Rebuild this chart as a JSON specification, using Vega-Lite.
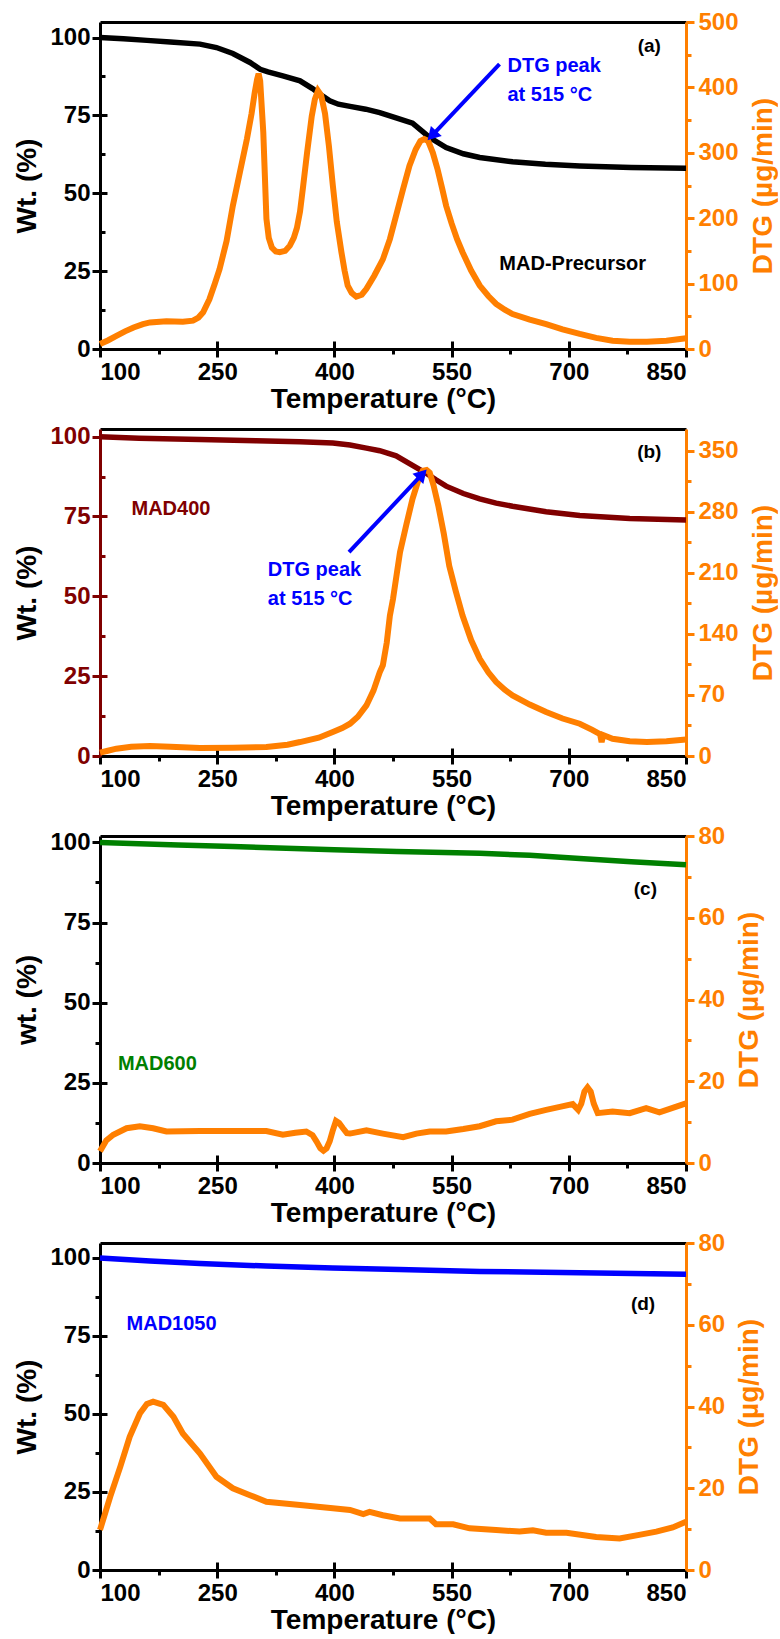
{
  "$schema": "https://vega.github.io/schema/vega-lite/v6.json",
  "padding": {"left": 13, "top": 10, "right": 0, "bottom": 0},
  "background": "white",
  "bounds": "flush",
  "spacing": 80,
  "config": {
    "font": "Liberation Sans",
    "view": {"stroke": null},
    "axis": {
      "labelFont": "Liberation Sans", "labelFontWeight": "bold", "labelFontSize": 24,
      "titleFont": "Liberation Sans", "titleFontWeight": "bold", "titleFontSize": 28,
      "domainWidth": 3, "tickWidth": 3, "tickSize": 8, "grid": false,
      "labelColor": "black", "titleColor": "black", "domainColor": "black", "tickColor": "black"
    },
    "axisBottom": {"labelPadding": 3, "titlePadding": 1},
    "text": {"font": "Liberation Sans", "fontWeight": "bold"}
  },
  "datasets": {
    "a_wt": [
      {"T":100,"W":100},{"T":130,"W":99.6},{"T":160,"W":99.1},{"T":190,"W":98.6},{"T":228,"W":97.9},{"T":249,"W":96.8},{"T":270,"W":94.9},{"T":292,"W":92.0},{"T":305,"W":89.8},{"T":315,"W":89.0},{"T":334,"W":87.7},{"T":356,"W":86.1},{"T":372,"W":83.6},{"T":385,"W":81.2},{"T":394,"W":79.7},{"T":405,"W":78.6},{"T":420,"W":77.9},{"T":440,"W":77.0},{"T":458,"W":75.9},{"T":479,"W":74.2},{"T":500,"W":72.5},{"T":513,"W":69.8},{"T":522,"W":67.9},{"T":543,"W":64.7},{"T":565,"W":62.7},{"T":586,"W":61.5},{"T":628,"W":60.1},{"T":670,"W":59.3},{"T":714,"W":58.8},{"T":780,"W":58.3},{"T":850,"W":58.0}
    ],
    "a_dtg": [
      {"T":100,"D":7.6},{"T":110,"D":13},{"T":121,"D":20},{"T":132,"D":27},{"T":143,"D":33},{"T":155,"D":38},{"T":164,"D":40.7},{"T":185,"D":42.3},{"T":206,"D":41.7},{"T":219,"D":43.3},{"T":226,"D":48},{"T":232,"D":56},{"T":240,"D":76},{"T":247,"D":100},{"T":253,"D":122},{"T":262,"D":165},{"T":270,"D":219},{"T":279,"D":270},{"T":288,"D":321},{"T":294,"D":360},{"T":298,"D":392},{"T":301,"D":412},{"T":303,"D":421},{"T":305,"D":410},{"T":307,"D":370},{"T":309,"D":331},{"T":311,"D":265},{"T":313,"D":199},{"T":316,"D":170},{"T":320,"D":155},{"T":325,"D":149},{"T":330,"D":148},{"T":337,"D":150},{"T":343,"D":158},{"T":348,"D":170},{"T":352,"D":185},{"T":356,"D":210},{"T":360,"D":249},{"T":365,"D":300},{"T":371,"D":356},{"T":375,"D":382},{"T":379,"D":395},{"T":383,"D":388},{"T":388,"D":360},{"T":393,"D":310},{"T":398,"D":250},{"T":403,"D":195},{"T":409,"D":148},{"T":413,"D":120},{"T":417,"D":97},{"T":422,"D":86},{"T":428,"D":80},{"T":435,"D":83},{"T":441,"D":92},{"T":451,"D":112},{"T":462,"D":137},{"T":471,"D":168},{"T":479,"D":204},{"T":488,"D":245},{"T":496,"D":280},{"T":504,"D":305},{"T":510,"D":318},{"T":515,"D":321},{"T":520,"D":318},{"T":526,"D":300},{"T":532,"D":275},{"T":538,"D":245},{"T":543,"D":219},{"T":550,"D":192},{"T":557,"D":168},{"T":564,"D":148},{"T":575,"D":120},{"T":586,"D":97},{"T":597,"D":81},{"T":607,"D":69},{"T":618,"D":60},{"T":628,"D":53.5},{"T":650,"D":45},{"T":671,"D":38},{"T":692,"D":30},{"T":714,"D":23},{"T":735,"D":17},{"T":756,"D":12.7},{"T":778,"D":11},{"T":800,"D":11.2},{"T":825,"D":12.5},{"T":850,"D":16.3}
    ],
    "b_wt": [
      {"T":100,"W":100},{"T":150,"W":99.5},{"T":228,"W":99.1},{"T":300,"W":98.7},{"T":356,"W":98.4},{"T":398,"W":98.0},{"T":420,"W":97.4},{"T":441,"W":96.4},{"T":458,"W":95.6},{"T":479,"W":94.0},{"T":500,"W":91.0},{"T":517,"W":88.6},{"T":530,"W":86.5},{"T":543,"W":84.5},{"T":565,"W":82.2},{"T":586,"W":80.5},{"T":607,"W":79.2},{"T":628,"W":78.2},{"T":671,"W":76.5},{"T":714,"W":75.3},{"T":778,"W":74.4},{"T":850,"W":73.9}
    ],
    "b_dtg": [
      {"T":100,"D":3.8},{"T":110,"D":6},{"T":121,"D":8.4},{"T":140,"D":10.5},{"T":164,"D":11.5},{"T":190,"D":10.5},{"T":228,"D":9.2},{"T":270,"D":9.5},{"T":313,"D":10.3},{"T":340,"D":13},{"T":356,"D":16},{"T":380,"D":21},{"T":398,"D":27.5},{"T":410,"D":32},{"T":420,"D":37},{"T":430,"D":45},{"T":441,"D":58},{"T":450,"D":75},{"T":458,"D":96},{"T":462,"D":104},{"T":467,"D":130},{"T":471,"D":161},{"T":475,"D":180},{"T":480,"D":210},{"T":484,"D":234},{"T":492,"D":265},{"T":500,"D":295},{"T":507,"D":315},{"T":513,"D":327},{"T":518,"D":328},{"T":522,"D":325},{"T":527,"D":310},{"T":533,"D":287},{"T":540,"D":255},{"T":547,"D":218},{"T":555,"D":190},{"T":564,"D":161},{"T":575,"D":133},{"T":586,"D":111.5},{"T":597,"D":96},{"T":607,"D":85},{"T":618,"D":76},{"T":628,"D":69.4},{"T":650,"D":59},{"T":671,"D":50.4},{"T":692,"D":43},{"T":714,"D":37},{"T":730,"D":30},{"T":740,"D":25},{"T":742,"D":16},{"T":744,"D":24},{"T":756,"D":19.8},{"T":778,"D":17},{"T":800,"D":16},{"T":825,"D":17},{"T":850,"D":19}
    ],
    "c_wt": [
      {"T":100,"W":100},{"T":200,"W":99.2},{"T":270,"W":98.7},{"T":400,"W":97.7},{"T":480,"W":97.2},{"T":586,"W":96.6},{"T":650,"W":96.0},{"T":714,"W":95.0},{"T":780,"W":94.0},{"T":850,"W":93.0}
    ],
    "c_dtg": [
      {"T":100,"D":2.85},{"T":108,"D":5.5},{"T":117,"D":6.9},{"T":134,"D":8.5},{"T":151,"D":9.0},{"T":168,"D":8.5},{"T":185,"D":7.7},{"T":228,"D":7.8},{"T":270,"D":7.8},{"T":313,"D":7.8},{"T":334,"D":6.9},{"T":350,"D":7.4},{"T":364,"D":7.7},{"T":372,"D":6.8},{"T":377,"D":5.3},{"T":382,"D":3.6},{"T":386,"D":3.0},{"T":390,"D":3.6},{"T":394,"D":5.3},{"T":398,"D":8},{"T":402,"D":10.3},{"T":406,"D":9.8},{"T":411,"D":8.5},{"T":416,"D":7.3},{"T":420,"D":7.2},{"T":441,"D":8.0},{"T":462,"D":7.2},{"T":488,"D":6.3},{"T":505,"D":7.2},{"T":522,"D":7.7},{"T":543,"D":7.7},{"T":565,"D":8.3},{"T":586,"D":9.0},{"T":607,"D":10.2},{"T":628,"D":10.6},{"T":650,"D":12.0},{"T":671,"D":13.0},{"T":690,"D":13.8},{"T":705,"D":14.4},{"T":712,"D":13.0},{"T":716,"D":14.5},{"T":720,"D":17.5},{"T":724,"D":18.5},{"T":728,"D":17.5},{"T":732,"D":14.5},{"T":737,"D":12.2},{"T":756,"D":12.6},{"T":778,"D":12.2},{"T":799,"D":13.4},{"T":816,"D":12.4},{"T":850,"D":14.6}
    ],
    "d_wt": [
      {"T":100,"W":100},{"T":164,"W":99.0},{"T":228,"W":98.2},{"T":313,"W":97.4},{"T":398,"W":96.8},{"T":483,"W":96.3},{"T":586,"W":95.7},{"T":714,"W":95.3},{"T":850,"W":94.8}
    ],
    "d_dtg": [
      {"T":100,"D":9.8},{"T":113,"D":17.9},{"T":126,"D":25.3},{"T":138,"D":32.6},{"T":151,"D":38.3},{"T":160,"D":40.6},{"T":168,"D":41.2},{"T":181,"D":40.4},{"T":194,"D":37.5},{"T":206,"D":33.4},{"T":228,"D":28.5},{"T":249,"D":22.8},{"T":270,"D":20},{"T":292,"D":18.3},{"T":313,"D":16.7},{"T":356,"D":15.9},{"T":398,"D":15.1},{"T":420,"D":14.7},{"T":437,"D":13.7},{"T":445,"D":14.2},{"T":462,"D":13.4},{"T":484,"D":12.6},{"T":500,"D":12.6},{"T":522,"D":12.6},{"T":530,"D":11.2},{"T":552,"D":11.2},{"T":573,"D":10.2},{"T":607,"D":9.8},{"T":637,"D":9.4},{"T":654,"D":9.7},{"T":671,"D":9.1},{"T":697,"D":9.1},{"T":735,"D":8.1},{"T":765,"D":7.7},{"T":790,"D":8.6},{"T":812,"D":9.4},{"T":833,"D":10.4},{"T":850,"D":11.8}
    ]
  },
  "vconcat": [
    {
      "width": 586, "height": 327,
      "resolve": {"scale": {"y": "independent"}, "axis": {"x": "independent", "y": "independent"}},
      "layer": [
        {"data": {"name": "a_wt"}, "mark": {"type": "line", "color": "black", "strokeWidth": 5.5},
         "encoding": {
           "x": {"field": "T", "type": "quantitative", "scale": {"domain": [100, 850], "nice": false},
                 "axis": {"orient": "bottom", "values": [100,250,400,550,700,850], "title": "Temperature (°C)", "titleX": 283}},
           "y": {"field": "W", "type": "quantitative", "scale": {"domain": [0, 105], "nice": false},
                 "axis": {"orient": "left", "values": [0,25,50,75,100], "title": "Wt. (%)", "labelPadding": 2, "titlePadding": 8}}
         }},
        {"data": {"name": "a_dtg"}, "mark": {"type": "line", "color": "#ff7f00", "strokeWidth": 6},
         "encoding": {
           "x": {"field": "T", "type": "quantitative", "axis": {"orient": "top", "labels": false, "ticks": false, "title": null}},
           "y": {"field": "D", "type": "quantitative", "scale": {"domain": [0, 500], "nice": false},
                 "axis": {"orient": "right", "values": [0,100,200,300,400,500], "title": "DTG (µg/min)", "titleAngle": 270, "titleBaseline": "top", "labelPadding": 4, "titlePadding": 11,
                          "domainColor": "#ff7f00", "tickColor": "#ff7f00", "labelColor": "#ff7f00", "titleColor": "#ff7f00"}}
         }},
        {"data": {"values": [{"T": 100, "W": 0}]}, "mark": {"type": "point", "opacity": 0},
         "encoding": {
           "x": {"field": "T", "type": "quantitative", "axis": {"orient": "bottom", "values": [175,325,475,625,775], "labels": false, "domain": false, "tickSize": 5, "title": null}},
           "y": {"field": "W", "type": "quantitative", "scale": {"domain": [0, 105], "nice": false}, "axis": {"orient": "left", "values": [12.5,37.5,62.5,87.5], "labels": false, "domain": false, "tickSize": 5, "offset": -5, "title": null}}
         }},
        {"data": {"values": [{"T": 100, "W": 0}]}, "mark": {"type": "point", "opacity": 0},
         "encoding": {
           "x": {"field": "T", "type": "quantitative", "axis": {"orient": "bottom", "values": [250,400,550,700], "labels": false, "domain": false, "tickSize": 8, "offset": -8, "title": null}},
           "y": {"field": "W", "type": "quantitative", "scale": {"domain": [0, 105], "nice": false}, "axis": {"orient": "left", "values": [25,50,75,100], "labels": false, "domain": false, "tickSize": 7, "offset": -7, "title": null}}
         }},
        {"data": {"values": [{"T": 100, "D": 0}]}, "mark": {"type": "point", "opacity": 0},
         "encoding": {
           "x": {"field": "T", "type": "quantitative", "axis": null},
           "y": {"field": "D", "type": "quantitative", "scale": {"domain": [0, 500], "nice": false}, "axis": {"orient": "right", "values": [50,150,250,350,450], "labels": false, "domain": false, "tickSize": 5, "tickColor": "#ff7f00", "title": null}}
         }},
        {"data": {"values": [{"T": 611.3, "D": 435.4, "T2": 526.7, "D2": 328.6}]},
         "mark": {"type": "rule", "color": "#0000ff", "strokeWidth": 4},
         "encoding": {
           "x": {"field": "T", "type": "quantitative", "axis": null},
           "x2": {"field": "T2"},
           "y": {"field": "D", "type": "quantitative", "scale": {"domain": [0, 500], "nice": false}, "axis": null},
           "y2": {"field": "D2"}
         }},
        {"data": {"values": [{"T": 526.7, "D": 328.6}]},
         "mark": {"type": "point", "shape": "triangle", "filled": true, "color": "#0000ff", "opacity": 1, "size": 220, "angle": 223},
         "encoding": {
           "x": {"field": "T", "type": "quantitative", "axis": null},
           "y": {"field": "D", "type": "quantitative", "scale": {"domain": [0, 500], "nice": false}, "axis": null}
         }},
        {"data": {"values": [{"T": 621.5, "W": 90.9, "label": "DTG peak"}, {"T": 621.5, "W": 81.5, "label": "at 515 °C"}]},
         "mark": {"type": "text", "color": "#0000ff", "fontSize": 20, "align": "left", "baseline": "middle"},
         "encoding": {
           "x": {"field": "T", "type": "quantitative", "axis": null},
           "y": {"field": "W", "type": "quantitative", "scale": {"domain": [0, 105], "nice": false}, "axis": null},
           "text": {"field": "label"}
         }},
        {"data": {"values": [{"T": 803, "W": 97.2, "label": "(a)"}]},
         "mark": {"type": "text", "color": "black", "fontSize": 19, "align": "center", "baseline": "middle"},
         "encoding": {
           "x": {"field": "T", "type": "quantitative", "axis": null},
           "y": {"field": "W", "type": "quantitative", "scale": {"domain": [0, 105], "nice": false}, "axis": null},
           "text": {"field": "label"}
         }},
        {"data": {"values": [{"T": 705, "W": 27.3, "label": "MAD-Precursor"}]},
         "mark": {"type": "text", "color": "black", "fontSize": 20, "align": "center", "baseline": "middle"},
         "encoding": {
           "x": {"field": "T", "type": "quantitative", "axis": null},
           "y": {"field": "W", "type": "quantitative", "scale": {"domain": [0, 105], "nice": false}, "axis": null},
           "text": {"field": "label"}
         }}
      ]
    },
    {
      "width": 586, "height": 327,
      "resolve": {"scale": {"y": "independent"}, "axis": {"x": "independent", "y": "independent"}},
      "layer": [
        {"data": {"name": "b_wt"}, "mark": {"type": "line", "color": "#800000", "strokeWidth": 5.5},
         "encoding": {
           "x": {"field": "T", "type": "quantitative", "scale": {"domain": [100, 850], "nice": false},
                 "axis": {"orient": "bottom", "values": [100,250,400,550,700,850], "title": "Temperature (°C)", "titleX": 283}},
           "y": {"field": "W", "type": "quantitative", "scale": {"domain": [0, 102.4], "nice": false},
                 "axis": {"orient": "left", "values": [0,25,50,75,100], "title": "Wt. (%)", "labelPadding": 2, "titlePadding": 8,
                          "domainColor": "#800000", "tickColor": "#800000", "labelColor": "#800000"}}
         }},
        {"data": {"name": "b_dtg"}, "mark": {"type": "line", "color": "#ff7f00", "strokeWidth": 6},
         "encoding": {
           "x": {"field": "T", "type": "quantitative", "axis": {"orient": "top", "labels": false, "ticks": false, "title": null}},
           "y": {"field": "D", "type": "quantitative", "scale": {"domain": [0, 375], "nice": false},
                 "axis": {"orient": "right", "values": [0,70,140,210,280,350], "title": "DTG  (µg/min)", "titleAngle": 270, "titleBaseline": "top", "labelPadding": 4, "titlePadding": 11,
                          "domainColor": "#ff7f00", "tickColor": "#ff7f00", "labelColor": "#ff7f00", "titleColor": "#ff7f00"}}
         }},
        {"data": {"values": [{"T": 100, "W": 0}]}, "mark": {"type": "point", "opacity": 0},
         "encoding": {
           "x": {"field": "T", "type": "quantitative", "axis": {"orient": "bottom", "values": [175,325,475,625,775], "labels": false, "domain": false, "tickSize": 5, "title": null}},
           "y": {"field": "W", "type": "quantitative", "scale": {"domain": [0, 102.4], "nice": false}, "axis": {"orient": "left", "values": [12.5,37.5,62.5,87.5], "labels": false, "domain": false, "tickSize": 5, "offset": -5, "tickColor": "#800000", "title": null}}
         }},
        {"data": {"values": [{"T": 100, "W": 0}]}, "mark": {"type": "point", "opacity": 0},
         "encoding": {
           "x": {"field": "T", "type": "quantitative", "axis": {"orient": "bottom", "values": [250,400,550,700], "labels": false, "domain": false, "tickSize": 8, "offset": -8, "title": null}},
           "y": {"field": "W", "type": "quantitative", "scale": {"domain": [0, 102.4], "nice": false}, "axis": {"orient": "left", "values": [25,50,75,100], "labels": false, "domain": false, "tickSize": 7, "offset": -7, "tickColor": "#800000", "title": null}}
         }},
        {"data": {"values": [{"T": 100, "D": 0}]}, "mark": {"type": "point", "opacity": 0},
         "encoding": {
           "x": {"field": "T", "type": "quantitative", "axis": null},
           "y": {"field": "D", "type": "quantitative", "scale": {"domain": [0, 375], "nice": false}, "axis": {"orient": "right", "values": [35,105,175,245,315], "labels": false, "domain": false, "tickSize": 5, "tickColor": "#ff7f00", "title": null}}
         }},
        {"data": {"values": [{"T": 418.7, "D": 233.7, "T2": 510.6, "D2": 321.4}]},
         "mark": {"type": "rule", "color": "#0000ff", "strokeWidth": 4},
         "encoding": {
           "x": {"field": "T", "type": "quantitative", "axis": null},
           "x2": {"field": "T2"},
           "y": {"field": "D", "type": "quantitative", "scale": {"domain": [0, 375], "nice": false}, "axis": null},
           "y2": {"field": "D2"}
         }},
        {"data": {"values": [{"T": 510.6, "D": 321.4}]},
         "mark": {"type": "point", "shape": "triangle", "filled": true, "color": "#0000ff", "opacity": 1, "size": 220, "angle": 43},
         "encoding": {
           "x": {"field": "T", "type": "quantitative", "axis": null},
           "y": {"field": "D", "type": "quantitative", "scale": {"domain": [0, 375], "nice": false}, "axis": null}
         }},
        {"data": {"values": [{"T": 314.8, "W": 58.1, "label": "DTG peak"}, {"T": 314.8, "W": 49.2, "label": "at 515 °C"}]},
         "mark": {"type": "text", "color": "#0000ff", "fontSize": 20, "align": "left", "baseline": "middle"},
         "encoding": {
           "x": {"field": "T", "type": "quantitative", "axis": null},
           "y": {"field": "W", "type": "quantitative", "scale": {"domain": [0, 102.4], "nice": false}, "axis": null},
           "text": {"field": "label"}
         }},
        {"data": {"values": [{"T": 803, "W": 95.1, "label": "(b)"}]},
         "mark": {"type": "text", "color": "black", "fontSize": 19, "align": "center", "baseline": "middle"},
         "encoding": {
           "x": {"field": "T", "type": "quantitative", "axis": null},
           "y": {"field": "W", "type": "quantitative", "scale": {"domain": [0, 102.4], "nice": false}, "axis": null},
           "text": {"field": "label"}
         }},
        {"data": {"values": [{"T": 190.8, "W": 77.4, "label": "MAD400"}]},
         "mark": {"type": "text", "color": "#800000", "fontSize": 20, "align": "center", "baseline": "middle"},
         "encoding": {
           "x": {"field": "T", "type": "quantitative", "axis": null},
           "y": {"field": "W", "type": "quantitative", "scale": {"domain": [0, 102.4], "nice": false}, "axis": null},
           "text": {"field": "label"}
         }}
      ]
    },
    {
      "width": 586, "height": 327,
      "resolve": {"scale": {"y": "independent"}, "axis": {"x": "independent", "y": "independent"}},
      "layer": [
        {"data": {"name": "c_wt"}, "mark": {"type": "line", "color": "#008000", "strokeWidth": 5.5},
         "encoding": {
           "x": {"field": "T", "type": "quantitative", "scale": {"domain": [100, 850], "nice": false},
                 "axis": {"orient": "bottom", "values": [100,250,400,550,700,850], "title": "Temperature (°C)", "titleX": 283}},
           "y": {"field": "W", "type": "quantitative", "scale": {"domain": [0, 102], "nice": false},
                 "axis": {"orient": "left", "values": [0,25,50,75,100], "title": "wt. (%)", "labelPadding": 2, "titlePadding": 8}}
         }},
        {"data": {"name": "c_dtg"}, "mark": {"type": "line", "color": "#ff7f00", "strokeWidth": 6},
         "encoding": {
           "x": {"field": "T", "type": "quantitative", "axis": {"orient": "top", "labels": false, "ticks": false, "title": null}},
           "y": {"field": "D", "type": "quantitative", "scale": {"domain": [0, 80], "nice": false},
                 "axis": {"orient": "right", "values": [0,20,40,60,80], "title": "DTG  (µg/min)", "titleAngle": 270, "titleBaseline": "top", "labelPadding": 4, "titlePadding": 11,
                          "domainColor": "#ff7f00", "tickColor": "#ff7f00", "labelColor": "#ff7f00", "titleColor": "#ff7f00"}}
         }},
        {"data": {"values": [{"T": 100, "W": 0}]}, "mark": {"type": "point", "opacity": 0},
         "encoding": {
           "x": {"field": "T", "type": "quantitative", "axis": {"orient": "bottom", "values": [175,325,475,625,775], "labels": false, "domain": false, "tickSize": 5, "title": null}},
           "y": {"field": "W", "type": "quantitative", "scale": {"domain": [0, 102], "nice": false}, "axis": {"orient": "left", "values": [12.5,37.5,62.5,87.5], "labels": false, "domain": false, "tickSize": 5, "title": null}}
         }},
        {"data": {"values": [{"T": 100, "W": 0}]}, "mark": {"type": "point", "opacity": 0},
         "encoding": {
           "x": {"field": "T", "type": "quantitative", "axis": {"orient": "bottom", "values": [250,400,550,700], "labels": false, "domain": false, "tickSize": 8, "offset": -8, "title": null}},
           "y": {"field": "W", "type": "quantitative", "scale": {"domain": [0, 102], "nice": false}, "axis": {"orient": "left", "values": [25,50,75,100], "labels": false, "domain": false, "tickSize": 7, "offset": -7, "title": null}}
         }},
        {"data": {"values": [{"T": 100, "D": 0}]}, "mark": {"type": "point", "opacity": 0},
         "encoding": {
           "x": {"field": "T", "type": "quantitative", "axis": null},
           "y": {"field": "D", "type": "quantitative", "scale": {"domain": [0, 80], "nice": false}, "axis": {"orient": "right", "values": [10,30,50,70], "labels": false, "domain": false, "tickSize": 5, "tickColor": "#ff7f00", "title": null}}
         }},
        {"data": {"values": [{"T": 798, "W": 85.5, "label": "(c)"}]},
         "mark": {"type": "text", "color": "black", "fontSize": 19, "align": "center", "baseline": "middle"},
         "encoding": {
           "x": {"field": "T", "type": "quantitative", "axis": null},
           "y": {"field": "W", "type": "quantitative", "scale": {"domain": [0, 102], "nice": false}, "axis": null},
           "text": {"field": "label"}
         }},
        {"data": {"values": [{"T": 173.4, "W": 30.9, "label": "MAD600"}]},
         "mark": {"type": "text", "color": "#008000", "fontSize": 20, "align": "center", "baseline": "middle"},
         "encoding": {
           "x": {"field": "T", "type": "quantitative", "axis": null},
           "y": {"field": "W", "type": "quantitative", "scale": {"domain": [0, 102], "nice": false}, "axis": null},
           "text": {"field": "label"}
         }}
      ]
    },
    {
      "width": 586, "height": 327,
      "resolve": {"scale": {"y": "independent"}, "axis": {"x": "independent", "y": "independent"}},
      "layer": [
        {"data": {"name": "d_wt"}, "mark": {"type": "line", "color": "#0000ff", "strokeWidth": 5.5},
         "encoding": {
           "x": {"field": "T", "type": "quantitative", "scale": {"domain": [100, 850], "nice": false},
                 "axis": {"orient": "bottom", "values": [100,250,400,550,700,850], "title": "Temperature (°C)", "titleX": 283}},
           "y": {"field": "W", "type": "quantitative", "scale": {"domain": [0, 104.8], "nice": false},
                 "axis": {"orient": "left", "values": [0,25,50,75,100], "title": "Wt. (%)", "labelPadding": 2, "titlePadding": 8}}
         }},
        {"data": {"name": "d_dtg"}, "mark": {"type": "line", "color": "#ff7f00", "strokeWidth": 6},
         "encoding": {
           "x": {"field": "T", "type": "quantitative", "axis": {"orient": "top", "labels": false, "ticks": false, "title": null}},
           "y": {"field": "D", "type": "quantitative", "scale": {"domain": [0, 80], "nice": false},
                 "axis": {"orient": "right", "values": [0,20,40,60,80], "title": "DTG (µg/min)", "titleAngle": 270, "titleBaseline": "top", "labelPadding": 4, "titlePadding": 11,
                          "domainColor": "#ff7f00", "tickColor": "#ff7f00", "labelColor": "#ff7f00", "titleColor": "#ff7f00"}}
         }},
        {"data": {"values": [{"T": 100, "W": 0}]}, "mark": {"type": "point", "opacity": 0},
         "encoding": {
           "x": {"field": "T", "type": "quantitative", "axis": {"orient": "bottom", "values": [175,325,475,625,775], "labels": false, "domain": false, "tickSize": 5, "title": null}},
           "y": {"field": "W", "type": "quantitative", "scale": {"domain": [0, 104.8], "nice": false}, "axis": {"orient": "left", "values": [12.5,37.5,62.5,87.5], "labels": false, "domain": false, "tickSize": 5, "title": null}}
         }},
        {"data": {"values": [{"T": 100, "W": 0}]}, "mark": {"type": "point", "opacity": 0},
         "encoding": {
           "x": {"field": "T", "type": "quantitative", "axis": {"orient": "bottom", "values": [250,400,550,700], "labels": false, "domain": false, "tickSize": 8, "offset": -8, "title": null}},
           "y": {"field": "W", "type": "quantitative", "scale": {"domain": [0, 104.8], "nice": false}, "axis": {"orient": "left", "values": [25,50,75,100], "labels": false, "domain": false, "tickSize": 7, "offset": -7, "title": null}}
         }},
        {"data": {"values": [{"T": 100, "D": 0}]}, "mark": {"type": "point", "opacity": 0},
         "encoding": {
           "x": {"field": "T", "type": "quantitative", "axis": null},
           "y": {"field": "D", "type": "quantitative", "scale": {"domain": [0, 80], "nice": false}, "axis": {"orient": "right", "values": [10,30,50,70], "labels": false, "domain": false, "tickSize": 5, "tickColor": "#ff7f00", "title": null}}
         }},
        {"data": {"values": [{"T": 795, "W": 85.4, "label": "(d)"}]},
         "mark": {"type": "text", "color": "black", "fontSize": 19, "align": "center", "baseline": "middle"},
         "encoding": {
           "x": {"field": "T", "type": "quantitative", "axis": null},
           "y": {"field": "W", "type": "quantitative", "scale": {"domain": [0, 104.8], "nice": false}, "axis": null},
           "text": {"field": "label"}
         }},
        {"data": {"values": [{"T": 191.6, "W": 79, "label": "MAD1050"}]},
         "mark": {"type": "text", "color": "#0000ff", "fontSize": 20, "align": "center", "baseline": "middle"},
         "encoding": {
           "x": {"field": "T", "type": "quantitative", "axis": null},
           "y": {"field": "W", "type": "quantitative", "scale": {"domain": [0, 104.8], "nice": false}, "axis": null},
           "text": {"field": "label"}
         }}
      ]
    }
  ]
}
